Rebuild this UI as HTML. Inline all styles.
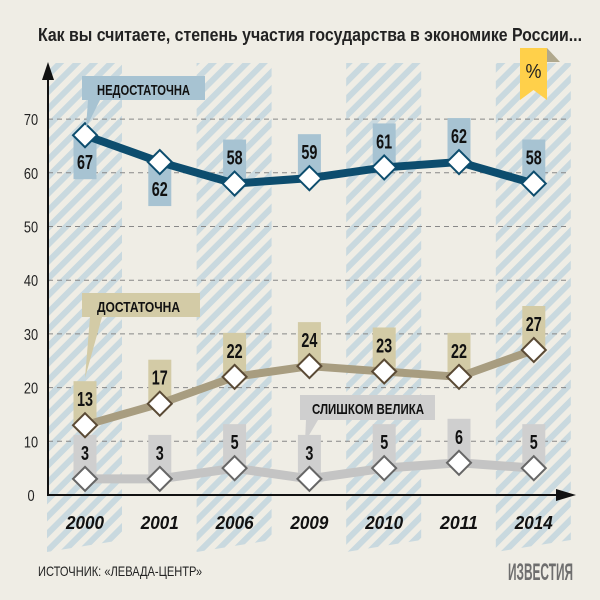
<!DOCTYPE html>
<html><head><meta charset="utf-8"><style>
body{margin:0;background:#efede5;}
svg{display:block;font-family:"Liberation Sans",sans-serif;}
</style></head><body>
<svg id="chart" width="600" height="600" viewBox="0 0 600 600">
<defs>
<pattern id="stripes" width="12" height="12" patternUnits="userSpaceOnUse" patternTransform="rotate(45)">
<rect width="12" height="12" fill="#efede5"/><rect width="6" height="12" fill="#c9d9df"/>
</pattern>
</defs>
<rect width="600" height="600" fill="#efede5"/>
<text x="38" y="41" font-size="18" font-weight="bold" fill="#222" textLength="544" lengthAdjust="spacingAndGlyphs">Как вы считаете, степень участия государства в экономике России...</text>
<g id="cols"></g>
<g id="grid"></g>
<g id="axes"></g>
<g id="series"></g>
<g>
<polygon points="547,48 560,62 547,62" fill="#b0a88c"/>
<polygon points="520,48 547,48 547,100 533.5,90 520,100" fill="#ffd04a"/>
<text x="533.5" y="78" font-size="20" text-anchor="middle" fill="#222" textLength="16" lengthAdjust="spacingAndGlyphs">%</text>
</g>
<g>
<polygon points="88,100 100,100 86,128" fill="#a7c3d2"/>
<rect x="82" y="76" width="123" height="24" fill="#a7c3d2"/>
<text x="97" y="95" font-size="15" font-weight="bold" fill="#111" textLength="93" lengthAdjust="spacingAndGlyphs">НЕДОСТАТОЧНА</text>
</g>
<g>
<polygon points="90,317 102,317 85,378" fill="#d3cba6"/>
<rect x="82" y="293" width="118" height="24" fill="#d3cba6"/>
<text x="97" y="312" font-size="15" font-weight="bold" fill="#111" textLength="83" lengthAdjust="spacingAndGlyphs">ДОСТАТОЧНА</text>
</g>
<g>
<polygon points="306,420 318,420 305,442" fill="#cfcfcf"/>
<rect x="300" y="395" width="135" height="25" fill="#cfcfcf"/>
<text x="312" y="414" font-size="15" font-weight="bold" fill="#111" textLength="112" lengthAdjust="spacingAndGlyphs">СЛИШКОМ ВЕЛИКА</text>
</g>
<text x="38" y="576" font-size="14" fill="#222" textLength="164" lengthAdjust="spacingAndGlyphs">ИСТОЧНИК: «ЛЕВАДА-ЦЕНТР»</text>
<text x="508" y="580" font-size="24" font-weight="bold" fill="#6e6e6e" textLength="65" lengthAdjust="spacingAndGlyphs">ИЗВЕСТИЯ</text>
</svg>
<script>
const years=["2000","2001","2006","2009","2010","2011","2014"];
const nedost=[67,62,58,59,61,62,58];
const dost=[13,17,22,24,23,22,27];
const velika=[3,3,5,3,5,6,5];
const yTicks=[0,10,20,30,40,50,60,70];
const NS="http://www.w3.org/2000/svg";
const X0=85,DX=74.8,Y0=495,K=5.37;
const xs=i=>X0+i*DX, ys=v=>Y0-v*K;
function mk(tag,at,parent){const e=document.createElementNS(NS,tag);for(const k in at)e.setAttribute(k,at[k]);parent.appendChild(e);return e;}
const cols=document.getElementById('cols'),grid=document.getElementById('grid'),axes=document.getElementById('axes'),ser=document.getElementById('series');
years.forEach((y,i)=>{
 if(i%2===0){const r=mk('polygon',{points:`${xs(i)-38},63 ${xs(i)+37},63 ${xs(i)+37},540 ${xs(i)-38},552`,fill:'url(#stripes)'},cols);
 
 }
 const t=mk('text',{x:xs(i)-19,y:529,'font-size':18,'font-weight':'bold','font-style':'italic',fill:'#111',textLength:38,lengthAdjust:'spacingAndGlyphs'},axes);t.textContent=y;
 
 
});
yTicks.forEach(v=>{
 if(v>0){const l=mk('line',{x1:48,x2:570,y1:ys(v),y2:ys(v),stroke:'#888','stroke-dasharray':'5,4','stroke-width':1},grid);
 
 }
 const t=mk('text',{x:31,y:ys(v)+6,'font-size':16,'text-anchor':'middle',fill:'#222',transform:`translate(31,0) scale(0.8,1) translate(-31,0)`},axes);t.textContent=v;
 
 
});
let a=mk('line',{x1:48,x2:48,y1:75,y2:496,stroke:'#111','stroke-width':2},axes);


a=mk('polygon',{points:'48,62 42,80 54,80',fill:'#111'},axes);


a=mk('line',{x1:47,x2:560,y1:495,y2:495,stroke:'#111','stroke-width':2},axes);


a=mk('polygon',{points:'576,495 556,489 556,501',fill:'#111'},axes);


function series(name,vals,line,box,stroke,w,below){
 const g=mk('g',{},ser);
 
 
 vals.forEach((v,i)=>{
  const up=!below(i);const y=ys(v);const x=xs(i);
  const b=mk('rect',{x:x-11.5,y:up?y-44:y,width:23,height:44,fill:box},g);
  
  
  const t=mk('text',{x:x,y:up?y-19:y+34,'font-size':20,'font-weight':'bold','text-anchor':'middle',fill:'#111',transform:`translate(${x},0) scale(0.72,1) translate(${-x},0)`},g);t.textContent=v;
  
  
 });
 const p=mk('polyline',{points:vals.map((v,i)=>xs(i)+','+ys(v)).join(' '),fill:'none',stroke:line,'stroke-width':w},g);
 
 
 vals.forEach((v,i)=>{
  const x=xs(i),y=ys(v);
  const d=mk('polygon',{points:`${x},${y-12} ${x+12},${y} ${x},${y+12} ${x-12},${y}`,fill:'#fff',stroke:stroke,'stroke-width':2},g);
  
  
 });
}
series('velika',velika,'#c4c4c4','#cfcfcf','#666',9,()=>false);
series('dostatochna',dost,'#a89d80','#d3cba6','#5a4a35',8,()=>false);
series('nedostatochna',nedost,'#0d4d6e','#a7c3d2','#0d4d6e',8,i=>i<2);
</script>
</body></html>
